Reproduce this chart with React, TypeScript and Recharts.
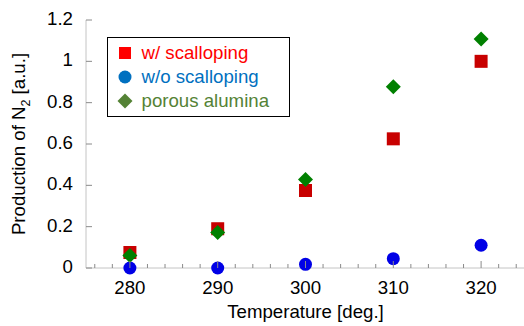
import React from "react";
import { ScatterChart, Scatter, XAxis, YAxis, Legend, Label } from "recharts";

// temperatures (deg.) and N2 production
const temps = [280, 290, 300, 310, 320];
const withScalloping = [0.075, 0.19, 0.375, 0.625, 1.0];
const withoutScalloping = [0.0, 0.0, 0.018, 0.045, 0.11];
const porousAlumina = [0.06, 0.172, 0.428, 0.877, 1.108];

const xMajorTicks = [280, 290, 300, 310, 320];
const xMinorTicks = [276, 278, 282, 284, 286, 288, 292, 294, 296, 298, 302, 304, 306, 308, 312, 314, 316, 318, 322, 324];
const yTicks = [0, 0.2, 0.4, 0.6, 0.8, 1, 1.2];

const FONT = "'Liberation Sans', Arial, sans-serif";
const FS = 18.67;
const AXIS = "#c4c4c4";
const TICK = "#8a8a8a";

const series = [
  { name: "w/ scalloping", values: withScalloping, color: "#c80000", legendColor: "#ff0000", kind: "square" },
  { name: "w/o scalloping", values: withoutScalloping, color: "#0000e6", legendColor: "#0070c0", kind: "circle" },
  { name: "porous alumina", values: porousAlumina, color: "#008000", legendColor: "#548235", kind: "diamond" },
];

const allXTicks = [...xMajorTicks, ...xMinorTicks].sort((a, b) => a - b);

const Marker = ({ kind, cx, cy, color, s }: { kind: string; cx: number; cy: number; color: string; s: number }) => {
  const h = s / 2;
  if (kind === "square") return <rect x={cx - h} y={cy - h} width={s} height={s} fill={color} />;
  if (kind === "circle") return <circle cx={cx} cy={cy} r={h} fill={color} />;
  return <polygon points={`${cx},${cy - h} ${cx + h},${cy} ${cx},${cy + h} ${cx - h},${cy}`} fill={color} />;
};

const makeShape = (kind: string, color: string) => (props: any) => (
  <Marker kind={kind} cx={props.cx} cy={props.cy} color={color} s={kind === "diamond" ? 15 : 13} />
);

const BottomTick = (props: any) => {
  const { x, y, payload } = props;
  const major = xMajorTicks.includes(payload.value);
  return (
    <g>
      <line x1={x} x2={x} y1={y} y2={y - (major ? 7 : 4)} stroke={TICK} />
      {major && (
        <text x={x} y={y + 26} textAnchor="middle" fontSize={FS} fontFamily={FONT} fill="#000">
          {payload.value}
        </text>
      )}
    </g>
  );
};

const TopTick = (props: any) => {
  const { x, y, payload } = props;
  const major = xMajorTicks.includes(payload.value);
  return <line x1={x} x2={x} y1={y} y2={y + (major ? 7 : 4)} stroke={TICK} />;
};

const LeftTick = (props: any) => {
  const { x, y, payload } = props;
  return (
    <g>
      <line x1={x} x2={x + 6} y1={y} y2={y} stroke={TICK} />
      <text x={x - 13} y={y + 5} textAnchor="end" fontSize={FS} fontFamily={FONT} fill="#000">
        {String(payload.value)}
      </text>
    </g>
  );
};

const RightTick = (props: any) => {
  const { x, y } = props;
  return <line x1={x} x2={x - 6} y1={y} y2={y} stroke={TICK} />;
};

const XTitle = (props: any) => {
  const vb = props.viewBox;
  return (
    <text x={vb.x + vb.width / 2} y={vb.y + 50} textAnchor="middle" fontSize={FS} fontFamily={FONT} fill="#000">
      Temperature [deg.]
    </text>
  );
};

const YTitle = (props: any) => {
  const vb = props.viewBox;
  const cx = 25;
  const cy = vb.y + vb.height / 2;
  return (
    <text x={cx} y={cy} transform={`rotate(-90, ${cx}, ${cy})`} textAnchor="middle" fontSize={FS} fontFamily={FONT} fill="#000">
      <tspan>Production of N</tspan>
      <tspan fontSize={12.5} dy={5}>2</tspan>
      <tspan dy={-5}> [a.u.]</tspan>
    </text>
  );
};

const LegendBox = () => (
  <div
    style={{
      width: 183,
      height: 80,
      boxSizing: "border-box",
      border: "1.5px solid #000",
      background: "#fff",
      paddingTop: 3,
      fontFamily: FONT,
      fontSize: FS,
    }}
  >
    {series.map((s) => (
      <div key={s.name} style={{ display: "flex", alignItems: "center", height: 24 }}>
        <svg width={16} height={16} style={{ marginLeft: 8.5 }}>
          <Marker kind={s.kind} cx={8} cy={8} color={s.legendColor} s={s.kind === "square" ? 12 : s.kind === "circle" ? 13 : 15} />
        </svg>
        <span style={{ marginLeft: 9, color: s.legendColor, lineHeight: "24px", whiteSpace: "nowrap" }}>{s.name}</span>
      </div>
    ))}
  </div>
);

export default function App() {
  return (
    <div style={{ position: "absolute", left: 0, top: 0, width: 524, height: 326, overflow: "hidden", background: "#fff" }}>
      <ScatterChart width={525} height={326} margin={{ top: 20, right: 0, bottom: 0, left: 0 }}>
        <XAxis
          xAxisId="main"
          type="number"
          dataKey="t"
          domain={[275, 325]}
          ticks={allXTicks}
          interval={0}
          height={58}
          axisLine={{ stroke: AXIS }}
          tickLine={false}
          tickSize={0}
          tickMargin={0}
          tick={<BottomTick />}
        >
          <Label content={<XTitle />} />
        </XAxis>
        <XAxis
          xAxisId="top"
          orientation="top"
          type="number"
          domain={[275, 325]}
          allowDataOverflow
          ticks={allXTicks}
          interval={0}
          height={0}
          axisLine={{ stroke: AXIS }}
          tickLine={false}
          tickSize={0}
          tickMargin={0}
          tick={<TopTick />}
        />
        <YAxis
          yAxisId="left"
          type="number"
          dataKey="v"
          domain={[0, 1.2]}
          ticks={yTicks}
          interval={0}
          width={86}
          axisLine={{ stroke: AXIS }}
          tickLine={false}
          tickSize={0}
          tickMargin={0}
          tick={<LeftTick />}
        >
          <Label content={<YTitle />} />
        </YAxis>
        <YAxis
          yAxisId="right"
          orientation="right"
          type="number"
          domain={[0, 1.2]}
          allowDataOverflow
          ticks={yTicks}
          interval={0}
          width={0}
          axisLine={{ stroke: AXIS }}
          tickLine={false}
          tickSize={0}
          tickMargin={0}
          tick={<RightTick />}
        />
        <Legend
          layout="vertical"
          align="center"
          verticalAlign="middle"
          content={<LegendBox />}
          wrapperStyle={{ position: "absolute", left: 107, top: 37, width: 183, height: 80 }}
        />
        {series.map((s) => (
          <Scatter
            key={s.name}
            name={s.name}
            xAxisId="main"
            yAxisId="left"
            data={temps.map((t, i) => ({ t, v: s.values[i] }))}
            fill={s.color}
            shape={makeShape(s.kind, s.color)}
            isAnimationActive={false}
          />
        ))}
      </ScatterChart>
    </div>
  );
}
